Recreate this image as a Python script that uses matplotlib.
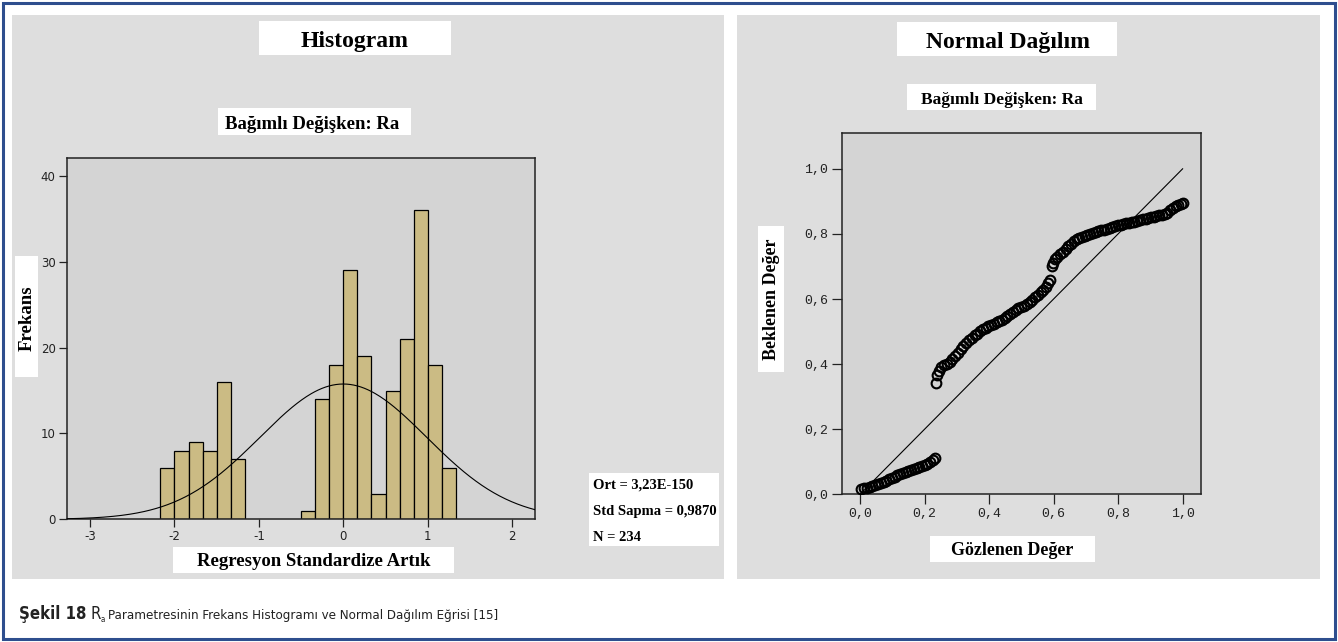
import numpy as np
import matplotlib
matplotlib.use("Agg")
import matplotlib.pyplot as plt
from matplotlib.patches import Rectangle
from matplotlib import font_manager

plt.rcParams['axes.unicode_minus'] = False

# Histogram of regression standardized residuals
bin_left = [-2.167, -2.0, -1.833, -1.667, -1.5, -1.333,
            -0.5, -0.333, -0.167, 0.0, 0.167, 0.333, 0.5, 0.667, 0.833, 1.0, 1.167]
bin_count = [6, 8, 9, 8, 16, 7,
             1, 14, 18, 29, 19, 3, 15, 21, 36, 18, 6]
bin_width = 1 / 6
res_mean = 3.23e-150
res_std = 0.9870
res_n = 234
hist_xticks = [-3, -2, -1, 0, 1, 2]
hist_yticks = [0, 10, 20, 30, 40]

# P-P plot (observed vs expected cumulative probability)
pp_observed = [
    0.004, 0.013, 0.021, 0.030, 0.038, 0.047, 0.056, 0.064, 0.073, 0.081,
    0.090, 0.098, 0.107, 0.115, 0.124, 0.132, 0.141, 0.150, 0.158, 0.167,
    0.175, 0.184, 0.192, 0.201, 0.209, 0.218, 0.226, 0.231,
    0.235, 0.239, 0.244, 0.252, 0.261, 0.269, 0.278, 0.286, 0.295, 0.303,
    0.312, 0.320, 0.329, 0.338, 0.346, 0.355, 0.363, 0.372, 0.380, 0.389,
    0.397, 0.406, 0.415, 0.423, 0.432, 0.440, 0.449, 0.457, 0.466, 0.474,
    0.483, 0.491, 0.500, 0.509, 0.517, 0.526, 0.534, 0.543, 0.551, 0.560,
    0.568, 0.577, 0.583, 0.588,
    0.594, 0.598, 0.603, 0.611, 0.620, 0.628, 0.637, 0.645, 0.654, 0.662,
    0.671, 0.679, 0.688, 0.697, 0.705, 0.714, 0.722, 0.731, 0.739, 0.748,
    0.756, 0.765, 0.774, 0.782, 0.791, 0.799, 0.808, 0.816, 0.825, 0.833,
    0.842, 0.850, 0.859, 0.868, 0.876, 0.885, 0.893, 0.902, 0.910, 0.919,
    0.927, 0.936, 0.944, 0.953, 0.961, 0.970, 0.978, 0.987, 0.995, 1.000]
pp_expected = [
    0.016, 0.018, 0.020, 0.022, 0.025, 0.028, 0.031, 0.034, 0.038, 0.042,
    0.046, 0.050, 0.054, 0.058, 0.062, 0.066, 0.069, 0.072, 0.075, 0.078,
    0.081, 0.084, 0.087, 0.090, 0.094, 0.099, 0.104, 0.110,
    0.342, 0.365, 0.380, 0.390, 0.396, 0.400, 0.406, 0.415, 0.425, 0.435,
    0.445, 0.456, 0.466, 0.474, 0.481, 0.488, 0.494, 0.501, 0.507, 0.512,
    0.516, 0.520, 0.524, 0.528, 0.532, 0.537, 0.542, 0.548, 0.554, 0.560,
    0.566, 0.571, 0.576, 0.580, 0.584, 0.590, 0.597, 0.605, 0.613, 0.620,
    0.627, 0.637, 0.648, 0.658,
    0.700, 0.712, 0.722, 0.730, 0.737, 0.745, 0.753, 0.762, 0.770, 0.778,
    0.783, 0.787, 0.790, 0.793, 0.796, 0.799, 0.802, 0.805, 0.808, 0.811,
    0.813, 0.816, 0.819, 0.822, 0.824, 0.826, 0.828, 0.830, 0.832, 0.834,
    0.836, 0.838, 0.840, 0.842, 0.845, 0.847, 0.849, 0.851, 0.853, 0.855,
    0.857, 0.859, 0.861, 0.864, 0.872, 0.880, 0.885, 0.889, 0.892, 0.894]
pp_ticks = [0.0, 0.2, 0.4, 0.6, 0.8, 1.0]

W, H = 1338, 642
fig = plt.figure(figsize=(W / 100, H / 100), dpi=100)
fig.patch.set_facecolor('white')

serif = 'Liberation Serif'


def find_condensed(bold=False):
    # look for a narrow sans font for the caption, else None
    for f in font_manager.fontManager.ttflist:
        nm = f.name + ' ' + str(f.fname)
        narrow = ('Narrow' in nm or 'Condensed' in nm or f.stretch == 'condensed'
                  or f.stretch == 'semi-condensed')
        if not narrow or 'Mono' in nm or 'Serif' in nm:
            continue
        is_bold = f.weight in ('bold', 700) or 'Bold' in f.fname
        if is_bold == bold and 'Italic' not in f.fname and 'Oblique' not in f.fname:
            return f.fname
    return None


cap_reg = find_condensed(False)
cap_bold = find_condensed(True)
if cap_reg:
    reg_prop = font_manager.FontProperties(fname=cap_reg, size=9.5)
    bold_prop = font_manager.FontProperties(fname=cap_bold or cap_reg, size=12)
else:
    reg_prop = font_manager.FontProperties(family='Liberation Sans', size=9.3)
    bold_prop = font_manager.FontProperties(family='Liberation Sans', weight='bold', size=11.5)


def fx(x):
    return x / W


def fy(y):
    return 1 - y / H


def box(x0, y0, x1, y1, color, z=-1):
    # rectangle given in pixel coords (top-left origin)
    fig.patches.append(Rectangle((fx(x0), fy(y1)), (x1 - x0) / W, (y1 - y0) / H,
                                 transform=fig.transFigure, facecolor=color,
                                 edgecolor='none', zorder=z))


def label(x, y, s, size, weight='bold', rot=0, ha='center', va='baseline', family=serif):
    fig.text(fx(x), fy(y), s, fontsize=size, fontweight=weight, rotation=rot,
             ha=ha, va=va, family=family, color='black', zorder=3)


# panel backgrounds
box(12, 15, 724, 579, '#dedede')
box(737, 15, 1320, 579, '#dedede')

# ---- histogram ----
ax1 = fig.add_axes([fx(66.7), fy(519.3), (535 - 66.7) / W, (519.3 - 158) / H])
ax1.set_facecolor('#d4d4d4')
ax1.bar(bin_left, bin_count, width=bin_width, align='edge', color='#cbbb84',
        edgecolor='black', linewidth=0.9, zorder=2)
xs = np.linspace(-3.3, 2.3, 400)
pdf = np.exp(-0.5 * ((xs - res_mean) / res_std) ** 2) / (res_std * np.sqrt(2 * np.pi))
ax1.plot(xs, res_n * bin_width * pdf, color='black', linewidth=0.8, zorder=3)
ax1.set_xlim(-3.276, 2.27)
ax1.set_ylim(0, 42.1)
ax1.set_xticks(hist_xticks)
ax1.set_yticks(hist_yticks)
ax1.tick_params(direction='out', length=6, width=0.9, labelsize=8.5, pad=2, colors='#222222')
for sp in ax1.spines.values():
    sp.set_linewidth(1.1)
    sp.set_color('#222222')

# ---- P-P plot ----
ax2 = fig.add_axes([fx(841.7), fy(494.3), (1201 - 841.7) / W, (494.3 - 133) / H])
ax2.set_facecolor('#d4d4d4')
ax2.plot([0, 1], [0, 1], color='black', linewidth=0.8, zorder=2)
ax2.plot(pp_observed, pp_expected, 'o', mfc='none', mec='black', ms=7, mew=1.5, zorder=3)
ax2.set_xlim(-0.057, 1.057)
ax2.set_ylim(0, 1.11)
ax2.set_xticks(pp_ticks)
ax2.set_yticks(pp_ticks)
ax2.set_xticklabels([f"{t:.1f}".replace('.', ',') for t in pp_ticks])
ax2.set_yticklabels([f"{t:.1f}".replace('.', ',') for t in pp_ticks])
ax2.tick_params(direction='out', length=7, width=0.9, labelsize=9.5, pad=3, colors='#222222')
for t in ax2.get_xticklabels() + ax2.get_yticklabels():
    t.set_family('Liberation Mono')
for sp in ax2.spines.values():
    sp.set_linewidth(1.1)
    sp.set_color('#222222')

# ---- white label boxes and texts ----
box(259, 21, 451, 55, 'white', 1)
label(355, 47, 'Histogram', 17)
box(218, 108, 411, 135, 'white', 1)
label(312, 129, 'Bağımlı Değişken: Ra', 13.5)
box(15, 256, 38, 377, 'white', 1)
label(27, 318, 'Frekans', 13.5, rot=90, va='center')
box(173, 547, 454, 573, 'white', 1)
label(314, 566, 'Regresyon Standardize Artık', 13.5)

box(589, 473, 719, 546, 'white', 1)
label(593, 489, 'Ort = 3,23E-150', 10.5, ha='left')
label(593, 515, 'Std Sapma = 0,9870', 10.5, ha='left')
label(593, 541, 'N = 234', 10.5, ha='left')

box(897, 22, 1117, 56, 'white', 1)
label(1008, 48, 'Normal Dağılım', 17)
box(907, 84, 1096, 110, 'white', 1)
label(1002, 104, 'Bağımlı Değişken: Ra', 12.5)
box(758, 226, 784, 372, 'white', 1)
label(771, 299, 'Beklenen Değer', 13, rot=90, va='center')
box(930, 536, 1095, 562, 'white', 1)
label(1012, 555, 'Gözlenen Değer', 13)

# ---- caption with subscript ----
renderer = fig.canvas.get_renderer()
cx, cy = 19, 619
t = fig.text(fx(cx), fy(cy), 'Şekil 18', fontproperties=bold_prop,
             color='#222222', ha='left', va='baseline')
cx += t.get_window_extent(renderer).width + 4
rbig = reg_prop.copy()
rbig.set_size(bold_prop.get_size())
t = fig.text(fx(cx), fy(cy), 'R', fontproperties=rbig, color='#222222',
             ha='left', va='baseline')
cx += t.get_window_extent(renderer).width
sub_prop = reg_prop.copy()
sub_prop.set_size(reg_prop.get_size() * 0.6)
t = fig.text(fx(cx), fy(cy + 3), 'a', fontproperties=sub_prop, color='#222222',
             ha='left', va='baseline')
cx += t.get_window_extent(renderer).width + 3
fig.text(fx(cx), fy(cy), 'Parametresinin Frekans Histogramı ve Normal Dağılım Eğrisi [15]',
         fontproperties=reg_prop, color='#222222', ha='left', va='baseline')

# outer blue frame
fig.patches.append(Rectangle((fx(3), fy(639)), (1335 - 3) / W, (639 - 3) / H,
                             transform=fig.transFigure, facecolor='none',
                             edgecolor='#2e4e8e', linewidth=2.2, zorder=5))

fig.savefig('out.png', dpi=100)
